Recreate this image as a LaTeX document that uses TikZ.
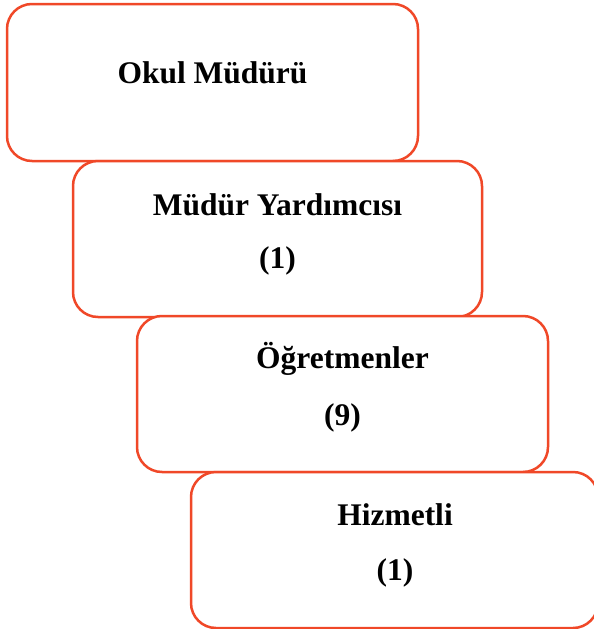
\documentclass[tikz,border=0pt]{standalone}
\usepackage{fontspec}
\setmainfont{Liberation Serif}
\definecolor{boxred}{RGB}{240,72,40}
\begin{document}
\begin{tikzpicture}[x=1pt,y=-1pt,
  orgbox/.style={draw=boxred, fill=white, line width=2.5pt, rounded corners=25pt,
    rectangle, inner sep=0pt},
  lbl/.style={anchor=base, inner sep=0pt, font=\fontsize{31.5}{38}\selectfont\bfseries}]
\useasboundingbox (0,0) rectangle (594,629);
\node[orgbox, minimum width=411pt, minimum height=157pt] (b1) at (212.5,82.5) {};
\node[orgbox, minimum width=409pt, minimum height=156pt] (b2) at (277.5,239) {};
\node[orgbox, minimum width=411pt, minimum height=156pt] (b3) at (342.5,394) {};
\node[orgbox, minimum width=407pt, minimum height=156pt] (b4) at (394.5,550) {};
\node[lbl] (t1) at (212.5,83) {Okul Müdürü};
\node[lbl] (t2) at (277.5,215) {Müdür Yardımcısı};
\node[lbl] (t2b) at (277.5,268) {(1)};
\node[lbl] (t3) at (342.5,368) {Öğretmenler};
\node[lbl] (t3b) at (342.5,425) {(9)};
\node[lbl] (t4) at (395,525) {Hizmetli};
\node[lbl] (t4b) at (395,580) {(1)};
\end{tikzpicture}
\end{document}
